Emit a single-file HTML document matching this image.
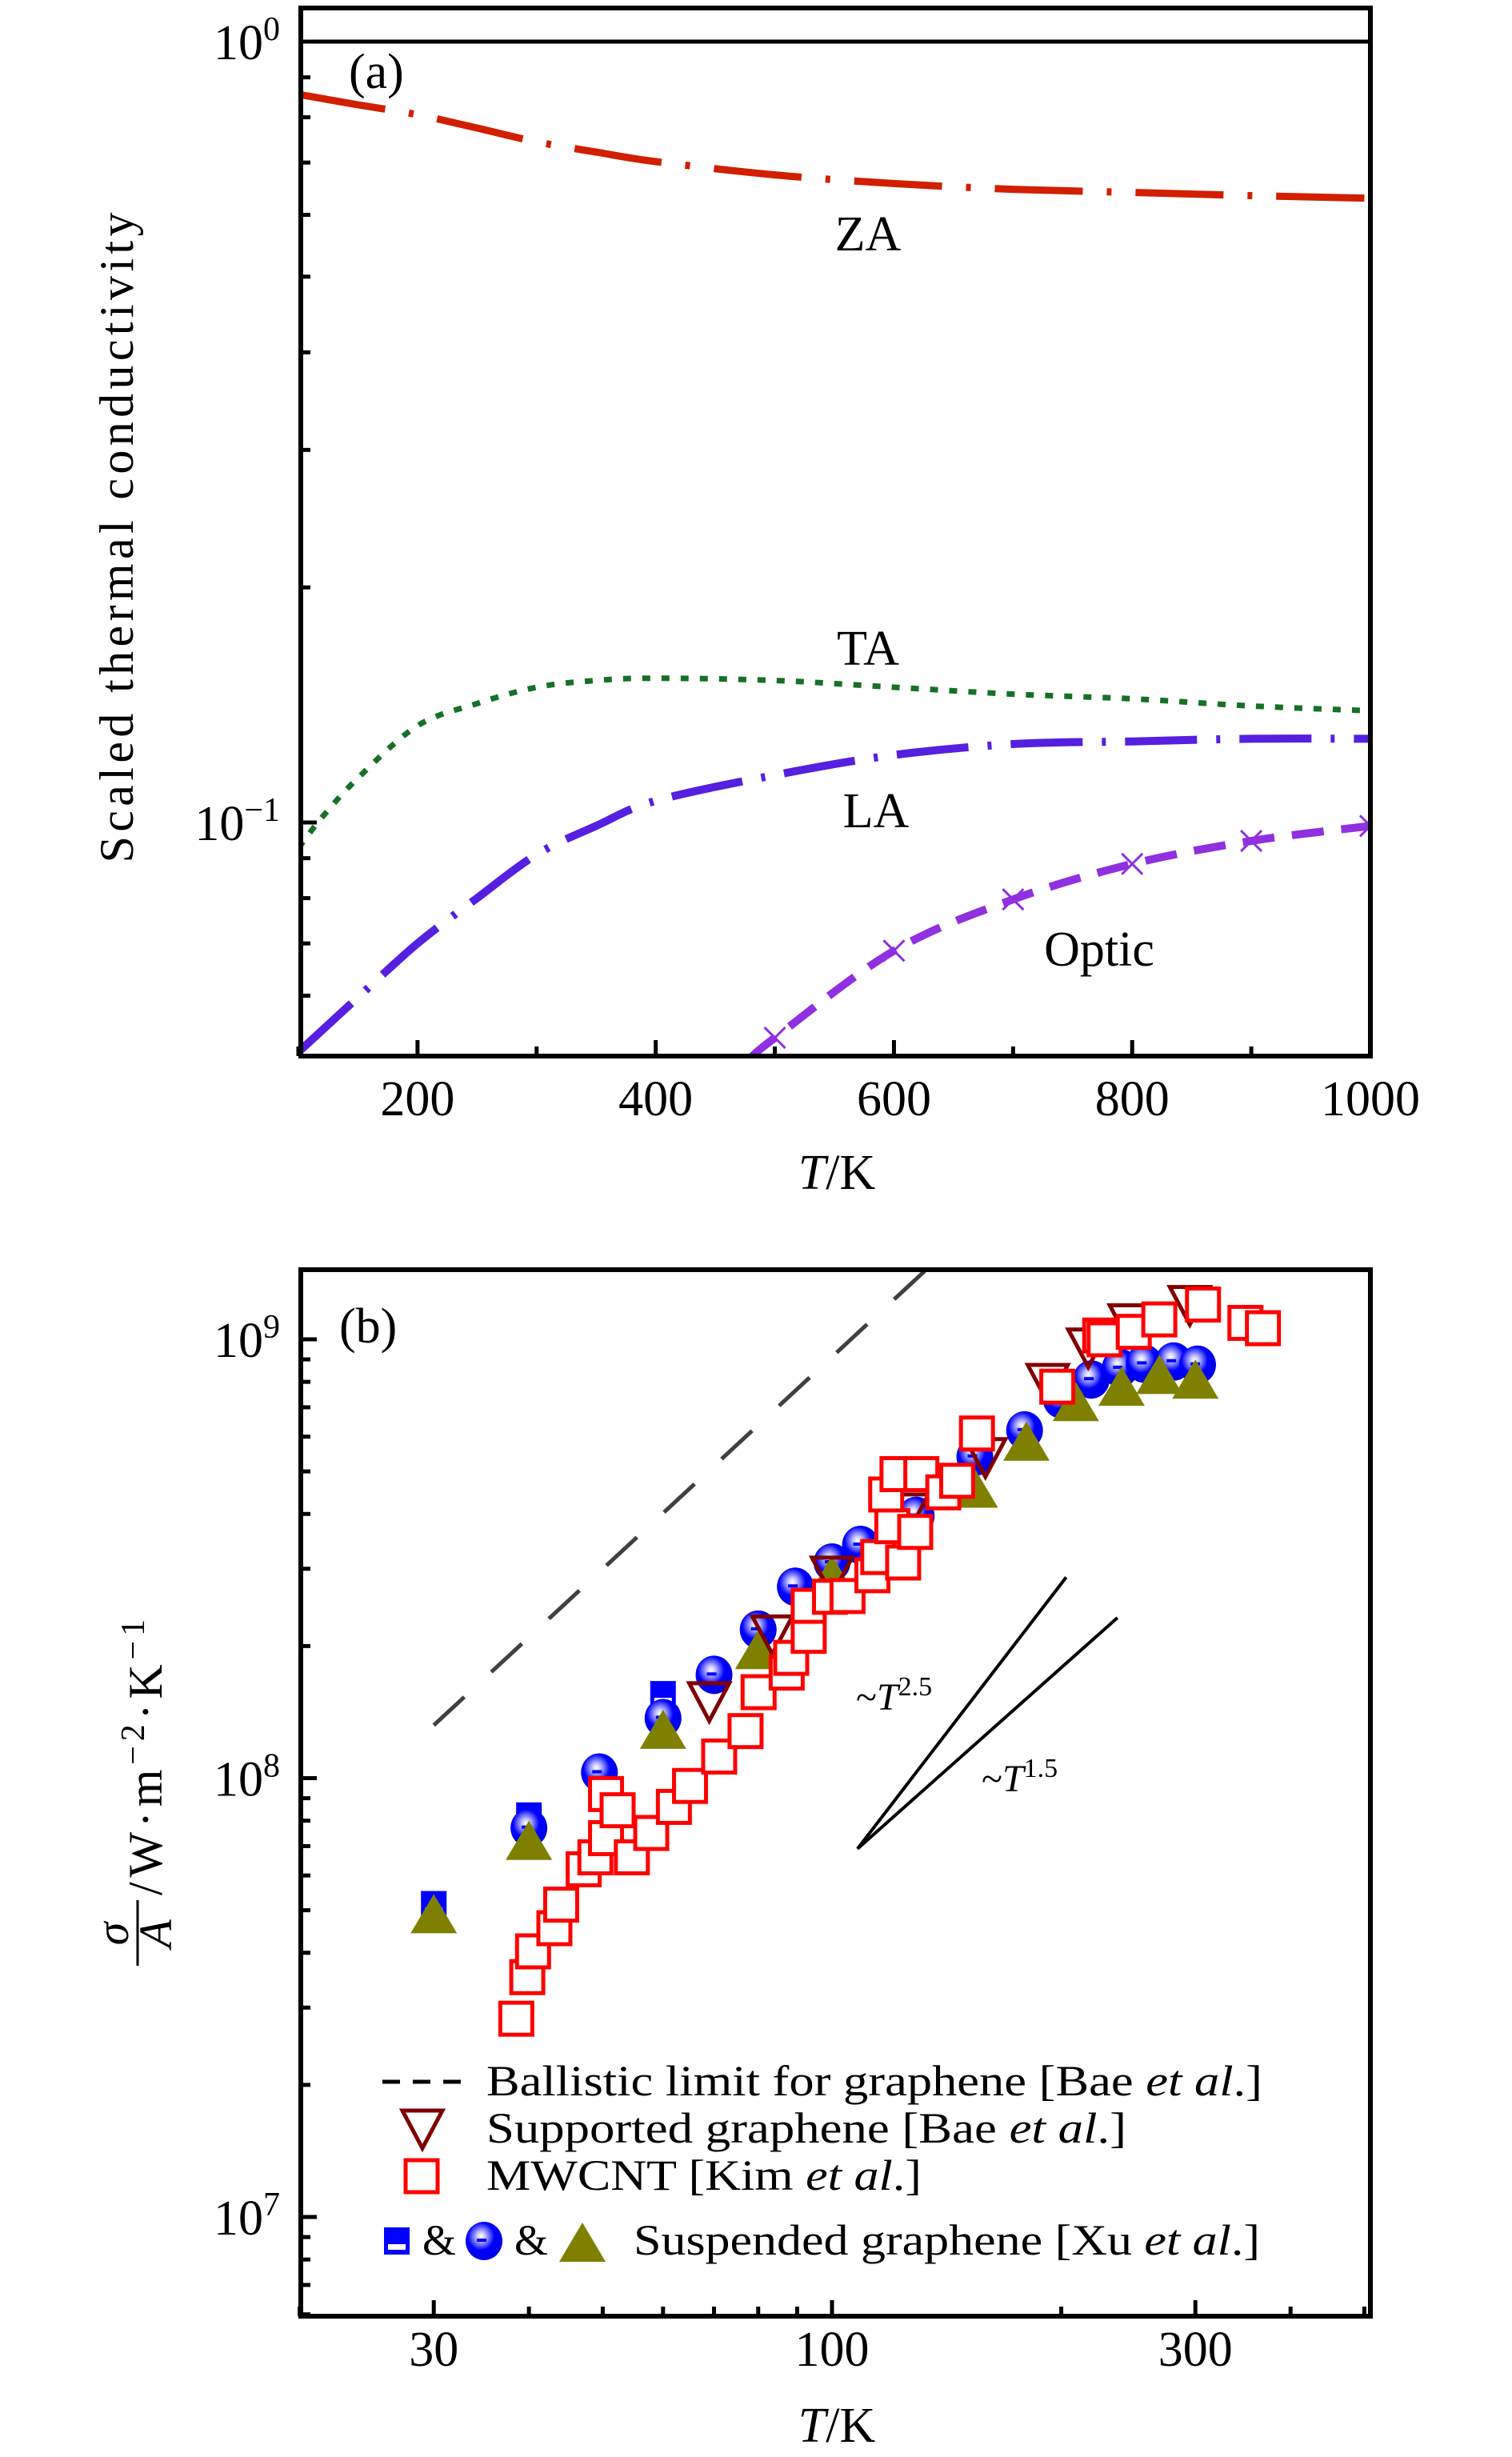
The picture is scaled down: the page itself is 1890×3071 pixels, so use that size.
<!DOCTYPE html>
<html><head><meta charset="utf-8"><style>
html,body{margin:0;padding:0;background:#fff}
svg{display:block}
text{font-family:"Liberation Serif",serif;fill:#000}
</style></head><body>
<svg id="fig" width="1890" height="3071" viewBox="0 0 1890 3071" xmlns="http://www.w3.org/2000/svg">
<defs>
<radialGradient id="sph" cx="0.42" cy="0.38" r="0.6">
<stop offset="0" stop-color="#ffffff"/><stop offset="0.18" stop-color="#c8c8ff"/><stop offset="0.38" stop-color="#6a6aff"/><stop offset="0.6" stop-color="#0000ff"/><stop offset="1" stop-color="#0000e6"/>
</radialGradient>
<clipPath id="clipA"><rect x="376" y="8" width="1337" height="1312"/></clipPath>
<clipPath id="clipB"><rect x="376" y="1585" width="1337" height="1310"/></clipPath>
</defs>
<g id="panelA"></g>
<g id="panelB"></g>
</svg>
<script>
// ---------- Panel (a) data ----------
const tempA = [100,150,200,250,300,350,400,500,600,700,800,900,1000];
const zaVals = [0.856,0.830,0.806,0.775,0.744,0.722,0.702,0.675,0.658,0.647,0.641,0.635,0.630];
const taTemp = [100,120,150,200,250,300,350,400,500,600,700,800,900,1000];
const taVals = [0.0927,0.1016,0.114,0.133,0.142,0.149,0.152,0.153,0.152,0.149,0.146,0.144,0.141,0.139];
const laVals = [0.0508,0.0597,0.070,0.080,0.091,0.099,0.1066,0.115,0.122,0.126,0.127,0.128,0.128];
const opTemp = [480,500,600,700,800,900,1000];
const opVals = [0.050,0.053,0.0685,0.0797,0.0885,0.0947,0.099];
const opMarkT = [500,600,700,800,900,1000];
const xTicksA = [200,400,600,800,1000];
const xMinorA = [100,300,500,700,900];

// ---------- Panel (b) data ----------
const xuSqT = [30,40,60];
const xuSqV = [5.15e7,8.2e7,1.55e8];
const xuSphT = [40,49.5,60,70,80,89.5,100,109,129,154,179,200,219,239,257,281,302];
const xuSphV = [7.7e7,1.03e8,1.37e8,1.72e8,2.18e8,2.73e8,3.1e8,3.4e8,3.96e8,5.4e8,6.2e8,7.3e8,8.1e8,8.6e8,8.8e8,8.9e8,8.75e8];
const xuTriT = [30,40,60,80,100,154,180,209,240,269,300];
const xuTriV = [4.9e7,7.2e7,1.29e8,1.96e8,2.9e8,4.57e8,5.85e8,7.2e8,7.8e8,8.3e8,8.1e8];
const supT = [69,83.5,100,126,159,192,217,246,295];
const supV = [1.5e8,2.13e8,2.9e8,4.04e8,5.4e8,7.97e8,9.6e8,1.09e9,1.2e9];
const mwT = [38.5,39.8,40.5,43.2,44.1,47.2,48.9,50.5,50.5,52.3,54.6,57.9,62,65.1,71.1,77,80.1,87.2,88.4,93.2,93.2,99.4,104.8,113,115,124,120,128.6,117.8,121.9,131,140,146,155,197.6,225,228,249,269,307,349,368];
const mwV = [2.83e7,3.52e7,4.03e7,4.55e7,5.15e7,6.2e7,6.6e7,7.3e7,9.2e7,8.45e7,6.6e7,7.5e7,8.6e7,9.6e7,1.12e8,1.28e8,1.57e8,1.74e8,1.88e8,2.11e8,2.47e8,2.59e8,2.6e8,2.9e8,3.19e8,3.1e8,3.75e8,3.64e8,4.43e8,4.93e8,4.93e8,4.48e8,4.76e8,6.1e8,7.8e8,1.02e9,1.0e9,1.04e9,1.11e9,1.2e9,1.09e9,1.06e9];
const ballT = [30,160];
const ballV = [1.32e8,1.94e9];
const g25T = [108,203];
const g25V = [6.9e7,2.87e8];
const g15T = [108,237];
const g15V = [6.9e7,2.32e8];
const xTicksB = [30,100,300];
const xMinorB = [20,40,50,60,70,80,90,200,400,500];

const NS = "http://www.w3.org/2000/svg";
function mk(parent, tag, attrs){const e=document.createElementNS(NS,tag);for(const k in attrs)e.setAttribute(k,attrs[k]);parent.appendChild(e);return e;}

const xA = t => 373 + (t-100)*1340/900;
const yA = v => 52 - 976*Math.log10(v);
const xB = t => 1040 + 952*Math.log10(t/100);
const yB = v => 2222.5 - 548.5*(Math.log10(v)-8);

const A = document.getElementById('panelA');
const B = document.getElementById('panelB');

function smoothA(ts, vs){
  const p = ts.map((t,i)=>[xA(t),yA(vs[i])]);
  let d = `M${p[0][0].toFixed(1)},${p[0][1].toFixed(1)}`;
  for(let i=0;i<p.length-1;i++){
    const p0=p[Math.max(0,i-1)],p1=p[i],p2=p[i+1],p3=p[Math.min(p.length-1,i+2)];
    const c1=[p1[0]+(p2[0]-p0[0])/6,p1[1]+(p2[1]-p0[1])/6];
    const c2=[p2[0]-(p3[0]-p1[0])/6,p2[1]-(p3[1]-p1[1])/6];
    d+=`C${c1[0].toFixed(1)},${c1[1].toFixed(1)} ${c2[0].toFixed(1)},${c2[1].toFixed(1)} ${p2[0].toFixed(1)},${p2[1].toFixed(1)}`;
  }
  return d;
}
const cA = mk(A,'g',{'clip-path':'url(#clipA)'});


let l = mk(cA,'line',{x1:376,x2:1713,y1:yA(1),y2:yA(1),stroke:'#000','stroke-width':5});


let za = mk(cA,'path',{d:smoothA(tempA,zaVals),fill:'none',stroke:'#d21f00','stroke-width':9,'stroke-dasharray':'110,30,6,30'});


let ta = mk(cA,'path',{d:smoothA(taTemp,taVals),fill:'none',stroke:'#187028','stroke-width':7,'stroke-dasharray':'10,14'});


let la = mk(cA,'path',{d:smoothA(tempA,laVals),fill:'none',stroke:'#5520e0','stroke-width':10,'stroke-dasharray':'90,24,5,24'});


let op = mk(cA,'path',{d:smoothA(opTemp,opVals),fill:'none',stroke:'#9030e0','stroke-width':10,'stroke-dasharray':'40,22'});


opMarkT.forEach(t=>{
  const i = opTemp.indexOf(t);
  const cx=xA(t), cy=yA(opVals[i]);
  const m = mk(cA,'path',{d:`M${cx-13},${cy-13}L${cx+13},${cy+13}M${cx-13},${cy+13}L${cx+13},${cy-13}`,stroke:'#9030e0','stroke-width':3,fill:'none'});
  
  
});
let fA = mk(A,'rect',{x:376,y:10,width:1337,height:1310,fill:'none',stroke:'#000','stroke-width':6});


xTicksA.forEach(t=>{
  mk(A,'line',{x1:xA(t),x2:xA(t),y1:1320,y2:1300,stroke:'#000','stroke-width':5});
  const tx = mk(A,'text',{x:xA(t),y:1394,'font-size':62,'text-anchor':'middle'});
  tx.textContent = t;
  
  
});
xMinorA.forEach(t=>{mk(A,'line',{x1:xA(t),x2:xA(t),y1:1320,y2:1308,stroke:'#000','stroke-width':5});});
[0.06,0.07,0.08,0.09,0.2,0.3,0.4,0.5,0.6,0.7,0.8,0.9].forEach(v=>{mk(A,'line',{x1:376,x2:388,y1:yA(v),y2:yA(v),stroke:'#000','stroke-width':5});});
[0.1,1].forEach(v=>{mk(A,'line',{x1:376,x2:396,y1:yA(v),y2:yA(v),stroke:'#000','stroke-width':5});});
function yLab(parent,x,y,exp,name){
  const t = mk(parent,'text',{x:x,y:y,'font-size':62,'text-anchor':'end'});
  
  
  const a = mk(t,'tspan',{}); a.textContent='10';
  const b = mk(t,'tspan',{dy:-24,'font-size':42}); b.textContent=exp;
}
yLab(A,350,yA(1)+22,'0','y-tick-label-1');
yLab(A,350,yA(0.1)+22,'\u22121','y-tick-label-0.1');
function lab(parent,x,y,txt,name,size,anchor){
  const t = mk(parent,'text',{x:x,y:y,'font-size':size||62,'text-anchor':anchor||'middle'});
  t.textContent = txt;
  
  
  return t;
}
lab(A,436,110,'(a)','panel-a-label',62,'start');
lab(A,1085,313,'ZA','za-label');
lab(A,1085,831,'TA','ta-label');
lab(A,1095,1034,'LA','la-label');
lab(A,1374,1207,'Optic','optic-label');
const xtA = mk(A,'text',{x:1046,y:1486,'font-size':62,'text-anchor':'middle'});


mk(xtA,'tspan',{'font-style':'italic'}).textContent='T';
mk(xtA,'tspan',{}).textContent='/K';
const ytA = mk(A,'text',{x:0,y:0,'font-size':60,'text-anchor':'middle',transform:'translate(166,672) rotate(-90)',textLength:813,lengthAdjust:'spacing'});
ytA.textContent='Scaled thermal conductivity';



// ===== Panel B =====
const cB = mk(B,'g',{'clip-path':'url(#clipB)'});


function lineB(ts,vs,attrs,name){
  const e = mk(cB,'line',Object.assign({x1:xB(ts[0]),y1:yB(vs[0]),x2:xB(ts[1]),y2:yB(vs[1])},attrs));
  
  
}
lineB(ballT,ballV,{stroke:'#404040','stroke-width':5,'stroke-dasharray':'52,46'},'ballistic-limit-line');
lineB(g25T,g25V,{stroke:'#000','stroke-width':4},'guide-t2.5');
lineB(g15T,g15V,{stroke:'#000','stroke-width':4},'guide-t1.5');
function xuSquare(g,cx,cy){
  mk(g,'rect',{x:cx-16,y:cy-17,width:32,height:34,fill:'#0000ff'});
  mk(g,'rect',{x:cx-11,y:cy+4,width:22,height:7,fill:'#fff'});
}
function sphere(g,cx,cy){
  mk(g,'ellipse',{cx:cx,cy:cy,rx:23,ry:24,fill:'url(#sph)'});
  mk(g,'rect',{x:cx-9,y:cy-3,width:12,height:4,fill:'#0000ff'});
}
function triUp(g,cx,cy,col){mk(g,'polygon',{points:`${cx-29},${cy+24} ${cx+29},${cy+24} ${cx},${cy-25}`,fill:col||'#808000'});}
function triDown(g,cx,cy){mk(g,'polygon',{points:`${cx-25},${cy-22} ${cx+25},${cy-22} ${cx},${cy+25}`,fill:'none',stroke:'#800000','stroke-width':5});}
function sqOpen(g,cx,cy){mk(g,'rect',{x:cx-20,y:cy-20,width:40,height:40,fill:'#fff',stroke:'#ff0000','stroke-width':5});}
xuSqT.forEach((t,i)=>{const g=mk(cB,'g',{});


xuSquare(g,xB(t),yB(xuSqV[i]));});
xuSphT.forEach((t,i)=>{const g=mk(cB,'g',{});


sphere(g,xB(t),yB(xuSphV[i]));});
xuTriT.forEach((t,i)=>{const g=mk(cB,'g',{});


triUp(g,xB(t),yB(xuTriV[i]));});
supT.forEach((t,i)=>{const g=mk(cB,'g',{});


triDown(g,xB(t),yB(supV[i]));});
mwT.forEach((t,i)=>{const g=mk(cB,'g',{});


sqOpen(g,xB(t),yB(mwV[i]));});
let fB = mk(B,'rect',{x:376,y:1587,width:1337,height:1308,fill:'none',stroke:'#000','stroke-width':6});


xTicksB.forEach(t=>{
  mk(B,'line',{x1:xB(t),x2:xB(t),y1:2895,y2:2875,stroke:'#000','stroke-width':5});
  const tx = mk(B,'text',{x:xB(t),y:2957,'font-size':62,'text-anchor':'middle'});
  tx.textContent=t;
  
  
});
xMinorB.forEach(t=>{mk(B,'line',{x1:xB(t),x2:xB(t),y1:2895,y2:2883,stroke:'#000','stroke-width':5});});
[1e7,1e8,1e9].forEach(v=>{mk(B,'line',{x1:376,x2:396,y1:yB(v),y2:yB(v),stroke:'#000','stroke-width':5});});
[5e6,6e6,7e6,8e6,9e6,2e7,3e7,4e7,5e7,6e7,7e7,8e7,9e7,2e8,3e8,4e8,5e8,6e8,7e8,8e8,9e8].forEach(v=>{const y=yB(v);if(y<2895&&y>1587)mk(B,'line',{x1:376,x2:388,y1:y,y2:y,stroke:'#000','stroke-width':5});});
yLab(B,350,yB(1e9)+22,'9','y-tick-label-1e9');
yLab(B,350,yB(1e8)+22,'8','y-tick-label-1e8');
yLab(B,350,yB(1e7)+22,'7','y-tick-label-1e7');
lab(B,424,1678,'(b)','panel-b-label',62,'start');
const t25 = mk(B,'text',{x:1070,y:2137,'font-size':48});


mk(t25,'tspan',{}).textContent='~';
mk(t25,'tspan',{'font-style':'italic'}).textContent='T';
mk(t25,'tspan',{dy:-18,'font-size':34}).textContent='2.5';
const t15 = mk(B,'text',{x:1227,y:2239,'font-size':48});


mk(t15,'tspan',{}).textContent='~';
mk(t15,'tspan',{'font-style':'italic'}).textContent='T';
mk(t15,'tspan',{dy:-18,'font-size':34}).textContent='1.5';
const xtB = mk(B,'text',{x:1046,y:3052,'font-size':62,'text-anchor':'middle'});


mk(xtB,'tspan',{'font-style':'italic'}).textContent='T';
mk(xtB,'tspan',{}).textContent='/K';
const ytB = mk(B,'g',{transform:'translate(172,2461) rotate(-90)'});


mk(ytB,'text',{x:44,y:-12,'font-size':58,'text-anchor':'middle','font-style':'italic'}).textContent='\u03C3';
mk(ytB,'line',{x1:4,x2:86,y1:0,y2:0,stroke:'#000','stroke-width':3});
mk(ytB,'text',{x:44,y:42,'font-size':58,'text-anchor':'middle','font-style':'italic'}).textContent='A';
const rest = mk(ytB,'text',{x:92,y:30,'font-size':60,textLength:345,lengthAdjust:'spacing'});
mk(rest,'tspan',{}).textContent='/W\u00B7m';
mk(rest,'tspan',{dy:-22,'font-size':42}).textContent='\u22122';
mk(rest,'tspan',{dy:22}).textContent='\u00B7K';
mk(rest,'tspan',{dy:-22,'font-size':42}).textContent='\u22121';

const lg = mk(B,'g',{});


function legText(x,y,parts,name,len){
  const t = mk(lg,'text',{x:x,y:y,'font-size':54,textLength:len,lengthAdjust:'spacingAndGlyphs'});
  
  
  parts.forEach(p=>{const s=mk(t,'tspan',p[1]?{'font-style':'italic'}:{});s.textContent=p[0];});
  return t;
}
mk(lg,'line',{x1:478,x2:576,y1:2602,y2:2602,stroke:'#000','stroke-width':5,'stroke-dasharray':'22,16'});
legText(608,2619,[['Ballistic limit for graphene [Bae '],['et al',1],['.]']],'legend-ballistic',970);
const lgd=mk(lg,'g',{}); triDown(lgd,528,2660);
legText(608,2678,[['Supported graphene [Bae '],['et al',1],['.]']],'legend-supported',800);
const lgs=mk(lg,'g',{}); sqOpen(lgs,527,2720);
legText(608,2737,[['MWCNT [Kim '],['et al',1],['.]']],'legend-mwcnt',544);
const lgx=mk(lg,'g',{});
xuSquare(lgx,496,2801); sphere(lgx,605,2801); triUp(lgx,728,2803);
const amp1 = mk(lg,'text',{x:528,y:2818,'font-size':54}); amp1.textContent='&';
const amp2 = mk(lg,'text',{x:643,y:2818,'font-size':54}); amp2.textContent='&';
legText(792,2818,[['Suspended graphene [Xu '],['et al',1],['.]']],'legend-suspended',783);
</script>
</body></html>
